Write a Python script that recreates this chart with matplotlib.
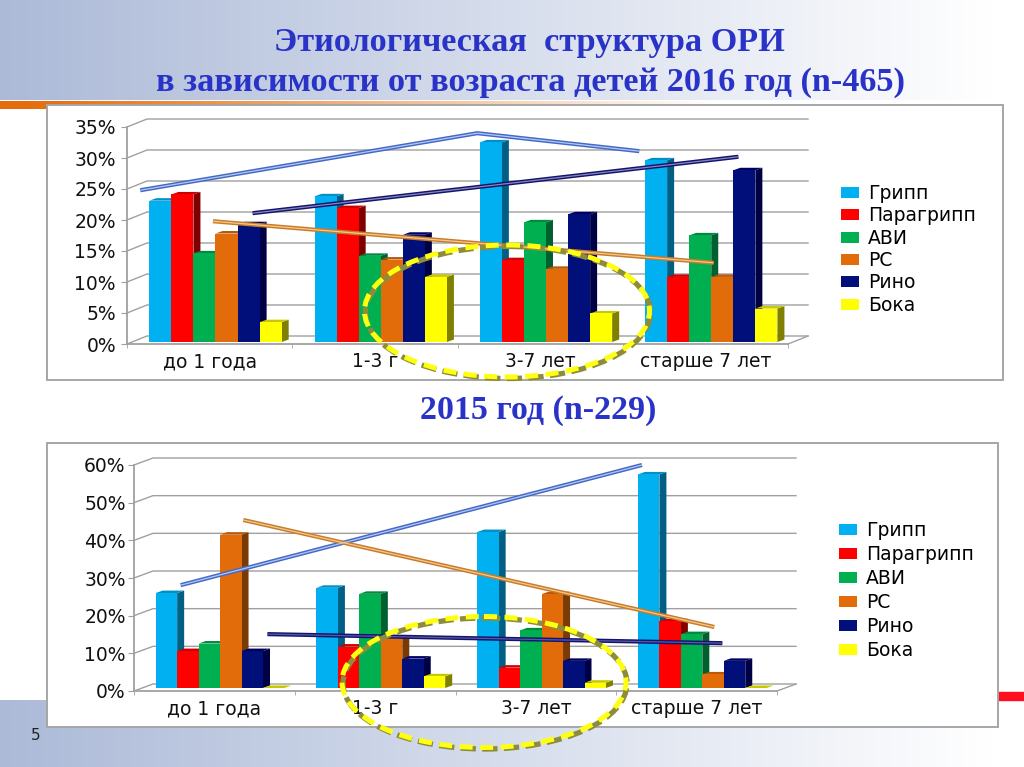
import numpy as np
import matplotlib
matplotlib.use('Agg')
import matplotlib.pyplot as plt
from matplotlib.patches import Ellipse, Polygon, Rectangle

W, H = 1024, 767

series_names = ['Грипп', 'Парагрипп', 'АВИ', 'РС', 'Рино', 'Бока']
categories = ['до 1 года', '1-3 г', '3-7 лет', 'старше 7 лет']

# values in percent, one list per virus
gripp_2016 = [22.8, 23.5, 32.2, 29.3]
para_2016 = [23.8, 21.6, 13.2, 10.5]
avi_2016 = [14.3, 13.9, 19.3, 17.2]
rs_2016 = [17.5, 13.3, 11.8, 10.5]
rino_2016 = [19.0, 17.3, 20.6, 27.7]
boka_2016 = [3.2, 10.5, 4.6, 5.4]

gripp_2015 = [25.2, 26.6, 41.4, 56.7]
para_2015 = [9.8, 11.0, 5.4, 17.7]
avi_2015 = [11.8, 25.0, 15.3, 14.3]
rs_2015 = [40.7, 13.4, 24.9, 3.6]
rino_2015 = [9.8, 7.8, 7.2, 7.2]
boka_2015 = [0.0, 3.1, 1.4, 0.0]

# hand drawn trend lines: (group position, percent)
trend_blue_2016 = ([0.08, 2.12, 3.10], [24.8, 34.0, 31.1])
trend_navy_2016 = ([0.76, 3.70], [21.1, 30.2])
trend_orange_2016 = ([0.52, 3.55], [19.8, 13.1])
trend_blue_2015 = ([0.29, 3.16], [28.1, 60.0])
trend_navy_2015 = ([0.83, 3.66], [15.1, 12.7])
trend_orange_2015 = ([0.68, 3.61], [45.4, 17.0])

front = ['#00B0F0', '#FF0000', '#00B050', '#E36C0A', '#000F7A', '#FFFF00']
side = ['#005F82', '#800000', '#006030', '#7A3A05', '#000045', '#808000']
top = ['#0090C8', '#D00000', '#008A40', '#B85808', '#000060', '#C8C800']

fig = plt.figure(figsize=(W / 100, H / 100), dpi=100)
plt.rcParams['font.family'] = ['DejaVu Sans']


def px_axes(x0, x1, ytop, ybot, z):
    return fig.add_axes([x0 / W, 1 - ybot / H, (x1 - x0) / W, (ybot - ytop) / H], zorder=z)


# background with the slide decoration, drawn in pixel coordinates
bg = px_axes(0, W, 0, H, 0)
bg.set_xlim(0, W)
bg.set_ylim(H, 0)
bg.axis('off')
grad = np.ones((2, 256, 3))
t = np.clip(np.linspace(0, 1.03, 256), 0, 1)
for k, c in enumerate((172, 186, 216)):
    grad[:, :, k] = (c + (255 - c) * t) / 255
bg.imshow(grad, extent=(0, W, 100, 0), aspect='auto', zorder=1)
bg.imshow(grad, extent=(0, W, 767, 700), aspect='auto', zorder=1)
rule = np.ones((2, 256, 3))
t = np.clip(np.linspace(-0.03, 1.45, 256), 0, 1)
for k, c in enumerate((228, 108, 10)):
    rule[:, :, k] = (c + (255 - c) * t) / 255
bg.imshow(rule, extent=(0, W, 109, 101), aspect='auto', zorder=2)
bg.add_patch(Rectangle((998, 692), 26, 8, color='#FF1020', zorder=2))
bg.set_xlim(0, W)
bg.set_ylim(H, 0)

for x0, y0, x1, y1 in [(47, 105, 1003, 380), (47, 443, 998, 727)]:
    bg.add_patch(Rectangle((x0, y0), x1 - x0, y1 - y0, fc='white', ec='#A6A6A6', lw=1.4, zorder=3))

title_kw = dict(family='Liberation Serif', weight='bold', color='#2A33C8', ha='center', va='center', zorder=4)
bg.text(529, 43, 'Этиологическая  структура ОРИ', fontsize=24.7, **title_kw)
bg.text(530, 82, 'в зависимости от возраста детей 2016 год (n-465)', fontsize=24.7, **title_kw)
bg.text(538, 410, '2015 год (n-229)', fontsize=24.5, **title_kw)
bg.text(36, 736, '5', fontsize=11, color='#222222', ha='center', va='center', zorder=4)


def draw_panel(box, wall, ymax, ystep, lift, values, trends, legend_at, spacing, ypad, xpad):
    x0, x1, ytop, ybot = box
    ax = px_axes(x0, x1, ytop, ybot, 1)
    ax.patch.set_alpha(0)
    ax.set_xlim(0, 4)
    ax.set_ylim(0, ymax)
    xpx = 4 / (x1 - x0)
    ypx = ymax / (ybot - ytop)
    wx, wy = wall[0] * xpx, wall[1] * ypx
    grid = '#A0A0A0'

    # back wall: gridlines and the wedges from the value axis
    levels = np.arange(0, ymax + ystep, ystep)
    for v in levels:
        ax.plot([0, wx, 4 + wx], [v, v + wy, v + wy], color=grid, lw=1.0, clip_on=False, zorder=1)
    ax.plot([4, 4 + wx], [0, wy], color=grid, lw=1.0, clip_on=False, zorder=1)

    bar_w = 0.1335
    dx, dy = 7 * xpx, 2.5 * ypx
    zz = 2
    for s, vals in enumerate(values):
        xs = np.arange(4) + 0.135 + s * bar_w
        ax.bar(xs, vals, bar_w, bottom=lift, align='edge', color=front[s], label=series_names[s],
               zorder=zz + 2 + s * 3)
        for x, v in zip(xs, vals):
            h = v + lift
            ax.add_patch(Polygon([(x + bar_w, lift), (x + bar_w + dx, lift + dy), (x + bar_w + dx, h + dy), (x + bar_w, h)],
                                 fc=side[s], ec='none', zorder=zz + s * 3))
            ax.add_patch(Polygon([(x, h), (x + bar_w, h), (x + bar_w + dx, h + dy), (x + dx, h + dy)],
                                 fc=top[s], ec='none', zorder=zz + 1 + s * 3))

    for (tx, ty), col, light in trends:
        ax.plot(tx, ty, color=col, lw=3.0, zorder=40, clip_on=False, solid_capstyle='butt')
        ax.plot(tx, ty, color=light, lw=0.9, zorder=41, clip_on=False, solid_capstyle='butt')

    for sp in ('top', 'right'):
        ax.spines[sp].set_visible(False)
    for sp in ('left', 'bottom'):
        ax.spines[sp].set_color(grid)
        ax.spines[sp].set_linewidth(1.3)
    ax.set_yticks(levels)
    ax.set_yticklabels(['%d%%' % v for v in levels], fontsize=13.5, color='#111111')
    ax.set_xticks(np.arange(4) + 0.5)
    ax.set_xticklabels(categories, fontsize=13.5, color='#111111')
    ax.set_xticks(np.arange(5), minor=True)
    ax.tick_params(axis='x', which='major', length=0, pad=xpad)
    ax.tick_params(axis='x', which='minor', length=3, color=grid)
    ax.tick_params(axis='y', length=4, color=grid, pad=ypad)

    leg = ax.legend(loc='upper left', bbox_to_anchor=(legend_at[0] / W, 1 - legend_at[1] / H),
                    bbox_transform=fig.transFigure, frameon=False, fontsize=13.5,
                    handlelength=0.96, handleheight=0.52, handletextpad=0.48,
                    labelspacing=spacing, borderpad=0, borderaxespad=0)
    leg.set_zorder(50)
    return ax


draw_panel((127, 788, 127, 344), (20, 8), 35, 5, 0.32,
           [gripp_2016, para_2016, avi_2016, rs_2016, rino_2016, boka_2016],
           [(trend_blue_2016, '#4468C8', '#B4C8F0'),
            (trend_navy_2016, '#141470', '#8888B8'),
            (trend_orange_2016, '#C87C28', '#F4C890')],
           (841, 184), 0.18, 4, 6)
draw_panel((134, 777, 465, 691), (19, 7), 60, 10, 0.8,
           [gripp_2015, para_2015, avi_2015, rs_2015, rino_2015, boka_2015],
           [(trend_blue_2015, '#4468C8', '#B4C8F0'),
            (trend_navy_2015, '#141470', '#5858A0'),
            (trend_orange_2015, '#C87C28', '#F4C890')],
           (839, 521), 0.27, 2, 6)

# dashed ovals over both charts
over = px_axes(0, W, 0, H, 2)
over.patch.set_alpha(0)
over.set_xlim(0, W)
over.set_ylim(H, 0)
over.axis('off')
for cx, cy, ew, eh in [(507, 311, 285, 132), (484, 682, 284, 131)]:
    over.add_patch(Ellipse((cx + 1, cy + 1.5), ew, eh, fill=False, ec='#8C8C3C', lw=3.8,
                           ls=(0, (2.9, 1.2))))
    over.add_patch(Ellipse((cx, cy), ew, eh, fill=False, ec='#FFFF10', lw=3.6,
                           ls=(0, (2.6, 1.5))))

fig.savefig('out.png', dpi=100)
